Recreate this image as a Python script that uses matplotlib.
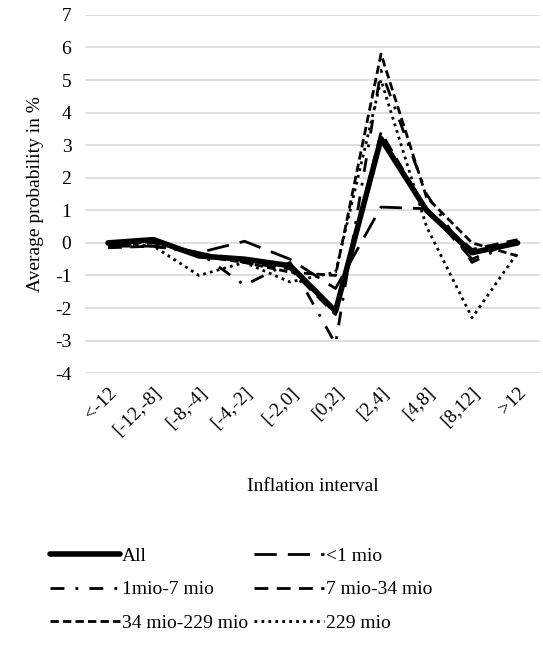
import matplotlib
matplotlib.use('Agg')
import matplotlib.pyplot as plt

plt.rcParams['font.family'] = ['Liberation Serif', 'DejaVu Serif']
plt.rcParams['axes.unicode_minus'] = False

categories = ['<-12', '[-12,-8]', '[-8,-4]', '[-4,-2]', '[-2,0]', '[0,2]', '[2,4]', '[4,8]', '[8,12]', '>12']
all_ = [0.0, 0.1, -0.4, -0.5, -0.7, -2.1, 3.2, 1.0, -0.3, 0.0]
lt1 = [-0.1, -0.1, -0.3, 0.05, -0.5, -1.4, 1.1, 1.05, -0.5, 0.1]
m1_7 = [-0.1, 0.0, -0.3, -1.3, -0.6, -3.1, 5.3, 1.5, -0.6, 0.1]
m7_34 = [-0.15, -0.1, -0.3, -0.6, -0.8, -2.2, 3.4, 1.0, -0.2, 0.1]
m34_229 = [-0.1, 0.05, -0.4, -0.6, -0.9, -1.0, 5.8, 1.4, 0.0, -0.4]
m229 = [0.0, -0.1, -1.0, -0.6, -1.2, -0.9, 5.0, 0.5, -2.3, -0.3]

fig = plt.figure(figsize=(5.43, 6.49), dpi=100)
ax = fig.add_axes([0.157, 0.425, 0.838, 0.552])
x = range(len(categories))
h_all, = ax.plot(x, all_, color='black', lw=4, label='All', solid_capstyle='round')
h_lt1, = ax.plot(x, lt1, color='black', lw=2, dashes=(8, 4), label='<1 mio')
h_17, = ax.plot(x, m1_7, color='black', lw=2, dashes=(5, 4, 1, 4), label='1mio-7 mio')
h_734, = ax.plot(x, m7_34, color='black', lw=2, dashes=(5, 3), label='7 mio-34 mio')
h_34229, = ax.plot(x, m34_229, color='black', lw=2, dashes=(3, 1.5), label='34 mio-229 mio')
h_229, = ax.plot(x, m229, color='black', lw=2, dashes=(1, 1.5), label='229 mio')

ax.set_xlim(-0.5, 9.5)
ax.set_ylim(-4, 7)
ax.set_yticks(range(-4, 8))
ax.set_xticks(list(x))
ax.set_xticklabels(categories, rotation=45, ha='right', rotation_mode='anchor', fontsize=14)
ax.tick_params(axis='y', labelsize=14, length=0, pad=10)
ax.tick_params(axis='x', length=0, pad=8)
ax.grid(axis='y', color='#d9d9d9', lw=1.2)
ax.set_axisbelow(True)
for s in ax.spines.values():
    s.set_visible(False)
ax.set_ylabel('Average probability in %', fontsize=14, labelpad=8)
ax.set_xlabel('Inflation interval', fontsize=14, labelpad=28)

handles = [h_all, h_17, h_34229, h_lt1, h_734, h_229]
fig.legend(handles=handles, labels=[h.get_label() for h in handles],
           loc='lower left', bbox_to_anchor=(0.06, 0.0), ncol=2, frameon=False,
           fontsize=14, handlelength=3.6, handletextpad=0.1, columnspacing=0.3,
           labelspacing=0.8)
fig.savefig('out.png', dpi=100)
